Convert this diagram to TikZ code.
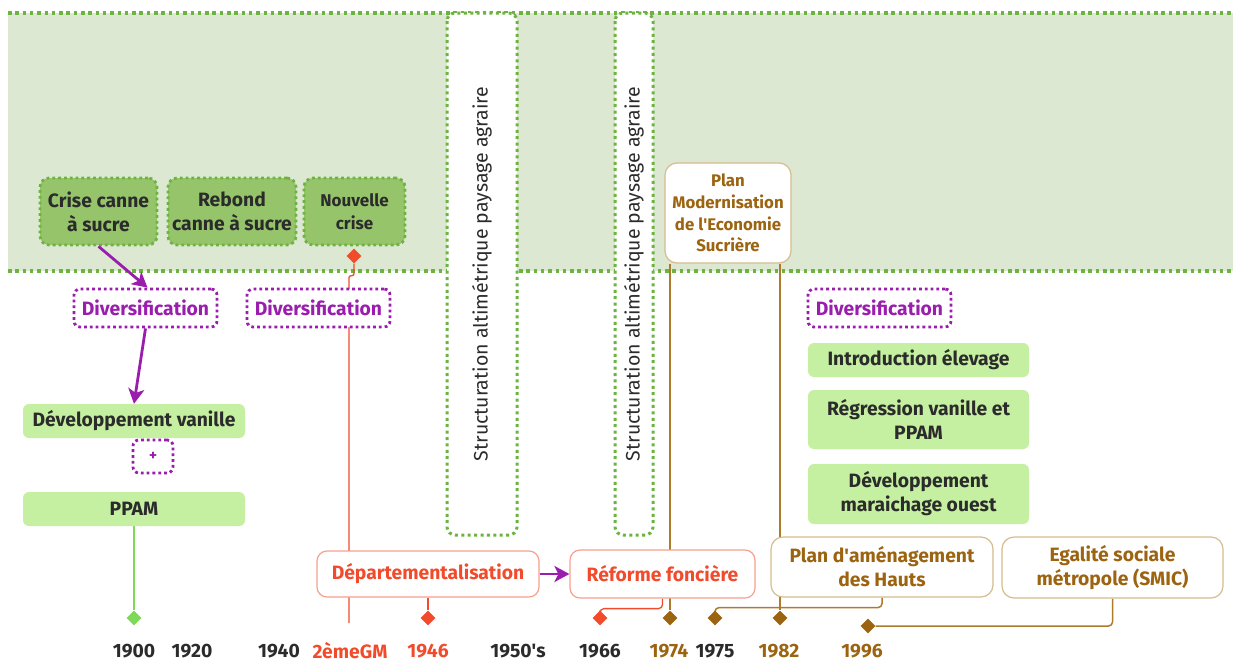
\documentclass[tikz,border=0pt]{standalone}
\usepackage{fontspec}
\setmainfont{Fira Sans}
\usetikzlibrary{arrows.meta, shapes.geometric}

\definecolor{bandfill}{HTML}{DDE8D3}
\definecolor{pointvert}{HTML}{6DB33F}
\definecolor{vertmoyen}{HTML}{95C46B}
\definecolor{vertclair}{HTML}{C5EFA1}
\definecolor{vertligne}{HTML}{7ED957}
\definecolor{violet}{HTML}{9A1DAE}
\definecolor{rouge}{HTML}{F14B2C}
\definecolor{saumon}{HTML}{F7A08F}
\definecolor{brun}{HTML}{9C6410}
\definecolor{brunligne}{HTML}{AE7B2C}
\definecolor{beige}{HTML}{D5BC8E}
\definecolor{sombre}{HTML}{2B2B2B}

\pgfdeclarelayer{fond}
\pgfdeclarelayer{liens}
\pgfsetlayers{fond,liens,main}

\begin{document}
\begin{tikzpicture}[x=1pt, y=-1pt,
            every node/.style={font=\bfseries\fontsize{19.3}{24}\selectfont, align=center, inner sep=0pt, text=sombre},
            bandline/.style={pointvert, line width=3.5pt, dash pattern=on 3.5pt off 3.8pt},
            colonne/.style={rectangle, rotate=90, draw=pointvert, fill=white, line width=3pt, dash pattern=on 3pt off 3.4pt, rounded corners=8pt, minimum height=70pt, minimum width=522pt, font=\fontsize{19.5}{20}\selectfont},
            crisebox/.style={rectangle, draw=pointvert, fill=vertmoyen, line width=2.8pt, dash pattern=on 2.8pt off 3pt, rounded corners=9pt, minimum height=67pt},
            divbox/.style={rectangle, draw=violet, fill=white, line width=2.8pt, dash pattern=on 2.8pt off 3pt, rounded corners=6pt, minimum width=143pt, minimum height=38pt, text=violet},
            greenbox/.style={rectangle, fill=vertclair, rounded corners=6pt, minimum width=222pt},
            redbox/.style={rectangle, draw=saumon, fill=white, line width=1.2pt, rounded corners=10pt, text=rouge},
            brownbox/.style={rectangle, draw=beige, fill=white, line width=1.2pt, rounded corners=12pt, text=brun},
            jalon/.style={diamond, minimum size=15pt},
            fleche/.style={-{Stealth[length=15pt, width=16pt, inset=4pt]}, violet, line width=2.8pt},
            rougeline/.style={rouge, line width=1.3pt},
            brunline/.style={brunligne, line width=1.5pt}
        ]
            \useasboundingbox (0,0) rectangle (1233,670);

            % bande verte
            \begin{pgfonlayer}{fond}
                \fill[bandfill] (8,13) rectangle (1233,271);
                \draw[bandline] (8,13) -- (1233,13);
                \draw[bandline] (8,271) -- (1233,271);
            \end{pgfonlayer}

            \node[colonne] (col1) at (482,274) {Structuration altimétrique paysage agraire};
            \node[colonne, minimum height=38pt] (col2) at (634,274) {Structuration altimétrique paysage agraire};

            % crises
            \node[crisebox, minimum width=117pt] (crise) at (98.5,211.5) {Crise canne\\à sucre};
            \node[crisebox, minimum width=128pt] (rebond) at (232,211.5) {Rebond\\canne à sucre};
            \node[crisebox, minimum width=101pt, font=\bfseries\fontsize{17}{23}\selectfont] (nouv) at (354.5,211.5) {Nouvelle\\crise};

            \node[divbox] (div1) at (145.5,308) {Diversification};
            \node[divbox] (div2) at (318.5,308) {Diversification};
            \node[divbox] (div3) at (879.5,308) {Diversification};

            \node[greenbox, minimum height=34pt] (devvan) at (134,421) {Développement vanille};
            \node[divbox, minimum width=40pt, minimum height=33pt, font=\bfseries\fontsize{15}{16}\selectfont] (plus) at (153,456.5) {+};
            \node[greenbox, minimum height=34pt] (ppam) at (134,509) {PPAM};

            \node[greenbox, minimum width=221pt, minimum height=34pt] (intro) at (918.5,360) {Introduction élevage};
            \node[greenbox, minimum width=221pt, minimum height=59pt] (regr) at (918.5,419.5) {Régression vanille et\\PPAM};
            \node[greenbox, minimum width=221pt, minimum height=60pt] (devmar) at (918.5,494) {Développement\\maraichage ouest};

            % evenements
            \node[brownbox, minimum width=126pt, minimum height=100pt, font=\bfseries\fontsize{16.8}{21.7}\selectfont] (pme) at (728,213) {Plan\\Modernisation\\de l\textquotesingle Economie\\Sucrière};
            \node[redbox, minimum width=222pt, minimum height=46pt] (depart) at (428,574) {Départementalisation};
            \node[redbox, minimum width=185pt, minimum height=48pt] (reforme) at (662.5,574) {Réforme foncière};
            \node[brownbox, minimum width=222pt, minimum height=60pt] (hauts) at (882,567) {Plan d\textquotesingle aménagement\\des Hauts};
            \node[brownbox, minimum width=221pt, minimum height=61pt] (egalite) at (1112.5,567.5) {Egalité sociale\\métropole (SMIC)};

            % jalons
            \node[jalon, fill=rouge] (dnouv) at (354,256) {};
            \node[jalon, fill=vertligne] (d1900) at (134,618) {};
            \node[jalon, fill=rouge] (d1946) at (428,618) {};
            \node[jalon, fill=rouge] (d1966) at (600,618) {};
            \node[jalon, fill=brun] (d1974) at (670,618) {};
            \node[jalon, fill=brun] (d1975) at (715,618) {};
            \node[jalon, fill=brun] (d1982) at (780,618) {};
            \node[jalon, fill=brun] (d1996) at (868,626) {};
            \coordinate (finGM) at (349,623);

            % annees
            \node (y1900) at (134,651) {1900};
            \node (y1920) at (192,651) {1920};
            \node (y1940) at (279,651) {1940};
            \node[text=rouge] (ygm) at (350,651) {2èmeGM};
            \node[text=rouge] (y1946) at (428,651) {1946};
            \node (y1950) at (518,651) {1950\textquotesingle s};
            \node (y1966) at (600,651) {1966};
            \node[text=brun] (y1974) at (669,651) {1974};
            \node (y1975) at (715,651) {1975};
            \node[text=brun] (y1982) at (779,651) {1982};
            \node[text=brun] (y1996) at (862,651) {1996};

            \begin{pgfonlayer}{liens}
                \draw[vertligne, line width=1.5pt] (ppam.south) -- (d1900);
                \draw[rougeline, rounded corners=2pt] (dnouv.south) -- ++(0,12) -| (finGM);
                \draw[rougeline] (depart.south) -- (d1946);
                \draw[rougeline, rounded corners=4pt] (reforme.south) -- ++(0,10) -| (d1966);
                \draw[brunline] ([xshift=-58pt]pme.south) -- (d1974);
                \draw[brunline] ([xshift=52pt]pme.south) -- (d1982);
                \draw[brunline, rounded corners=4pt] (hauts.south) -- ++(0,10) -| (d1975);
                \draw[brunline, rounded corners=4pt] (egalite.south) |- (d1996.east);
            \end{pgfonlayer}

            \draw[fleche] (crise.south) -- ([xshift=2pt]div1.north);
            \draw[fleche] (div1.south) -- (devvan.north);
            \draw[fleche] (depart.east) -- (reforme.west);

        \end{tikzpicture}
\end{document}
